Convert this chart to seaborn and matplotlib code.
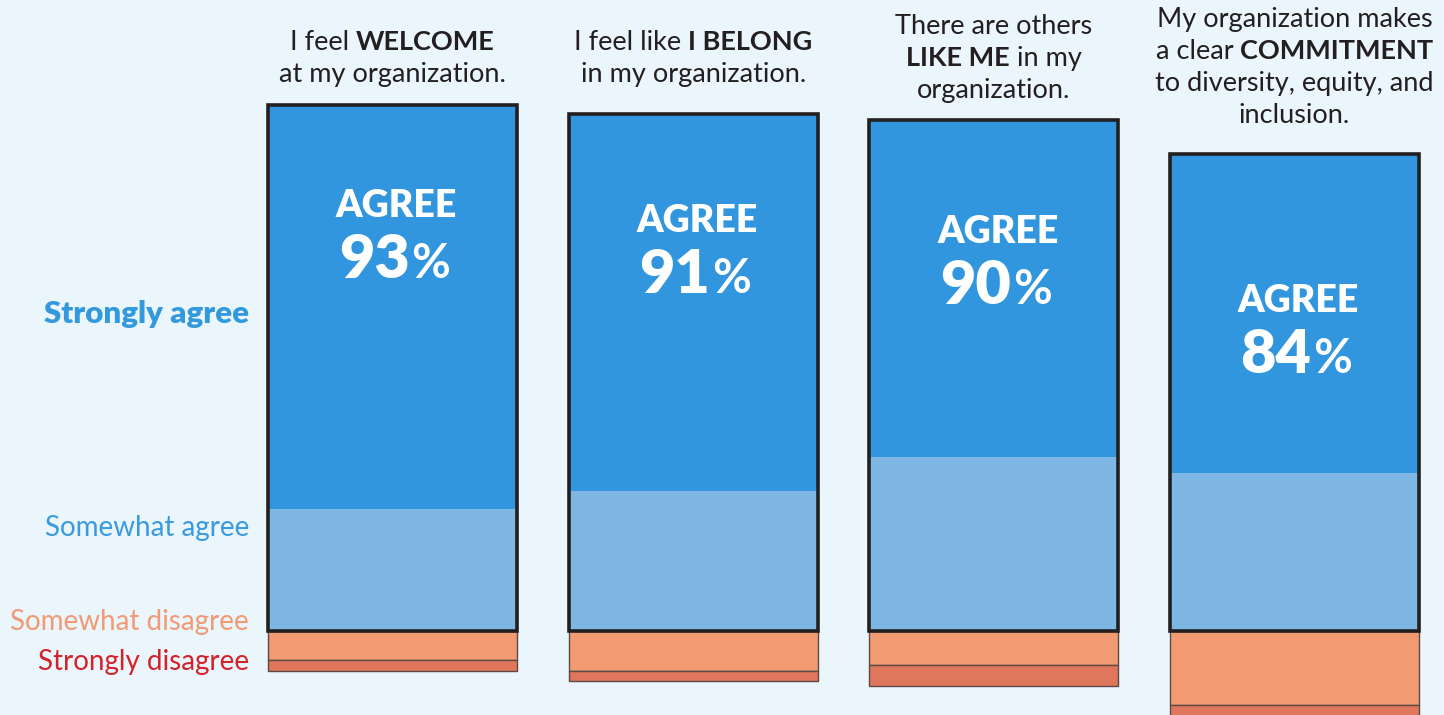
import numpy as np
import pandas as pd
import seaborn as sns
import matplotlib
matplotlib.use("Agg")
import matplotlib.pyplot as plt
import matplotlib.transforms as mtransforms

# ---------------- data ----------------
questions = ["WELCOME", "BELONG", "LIKE ME", "COMMITMENT"]
strongly_agree = [71.4, 66.7, 59.6, 56.5]
somewhat_agree = [21.6, 24.7, 30.8, 27.9]
somewhat_disagree = [5.2, 7.0, 6.0, 13.0]
strongly_disagree = [1.8, 1.9, 3.8, 3.0]
agree_totals = ["93", "91", "90", "84"]

title_lines = [
    [[("I feel ", False), ("WELCOME", True)], [("at my organization.", False)]],
    [[("I feel like ", False), ("I BELONG", True)], [("in my organization.", False)]],
    [[("There are others", False)], [("LIKE ME", True), (" in my", False)], [("organization.", False)]],
    [[("My organization makes", False)], [("a clear ", False), ("COMMITMENT", True)],
     [("to diversity, equity, and", False)], [("inclusion.", False)]],
]
legend_labels = ["Strongly agree", "Somewhat agree", "Somewhat disagree", "Strongly disagree"]

# ---------------- style ----------------
W, H, DPI = 1444, 715, 100
BG = "#eaf5fc"
C_SA = "#3196dd"
C_SWA = "#7eb7e3"
C_SWD = "#f29a72"
C_SD = "#e0765c"
FONT = ["Lato", "DejaVu Sans"]
TXT = "#231f20"

sns.set_theme(style="white")
plt.rcParams["font.family"] = FONT

fig = plt.figure(figsize=(W / DPI, H / DPI), dpi=DPI)
fig.patch.set_facecolor(BG)
ax = fig.add_axes([0, 0, 1, 1])
ax.set_facecolor(BG)

df = pd.DataFrame({
    "q": questions,
    "sa": strongly_agree,
    "swa": somewhat_agree,
    "swd": somewhat_disagree,
    "sd": strongly_disagree,
})
df["agree"] = df["sa"] + df["swa"]
df["neg_swd"] = -df["swd"]
df["neg_sd"] = -df["sd"]

BW = 0.828
common = dict(data=df, x="q", order=questions, width=BW, errorbar=None, ax=ax)
sns.barplot(y="swa", color=C_SWA, saturation=1, linewidth=0, **common)
sns.barplot(y="sa", bottom=list(df["swa"]), color=C_SA, saturation=1, linewidth=0, **common)
sns.barplot(y="neg_swd", color=C_SWD, saturation=1, edgecolor="#5b4a45", linewidth=1.0, **common)
sns.barplot(y="neg_sd", bottom=list(df["neg_swd"]), color=C_SD, saturation=1,
            edgecolor="#5b4a45", linewidth=1.0, **common)
sns.barplot(y="agree", color=TXT, fill=False, linewidth=2.6, saturation=1, **common)

# scale: baseline at 631 px from top, 5.656 px per percent
PX_PER = 5.656
BASE_PX = 631
ax.set_ylim(-(H - BASE_PX) / PX_PER, BASE_PX / PX_PER)
x0_px, step_px = 392.5, 300.67
ax.set_xlim(-x0_px / step_px, (W - x0_px) / step_px)
ax.set_axis_off()

ident = mtransforms.IdentityTransform()
renderer = fig.canvas.get_renderer()


def text_width(s, size, weight):
    t1 = fig.text(0, 0, "|" + s + "|", fontsize=size, fontweight=weight, transform=ident)
    t2 = fig.text(0, 0, "||", fontsize=size, fontweight=weight, transform=ident)
    w = t1.get_window_extent(renderer).width - t2.get_window_extent(renderer).width
    t1.remove()
    t2.remove()
    return w


def draw_line(xc, y_base, segs, ha="center", gap=0):
    # segs: (text, size, weight, color)
    widths = [text_width(s, sz, wt) for s, sz, wt, c in segs]
    total = sum(widths) + gap * (len(segs) - 1)
    if ha == "center":
        x = xc - total / 2
    elif ha == "right":
        x = xc - total
    else:
        x = xc
    for (s, sz, wt, c), w in zip(segs, widths):
        fig.text(x, H - y_base, s, fontsize=sz, fontweight=wt, color=c,
                 transform=ident, ha="left", va="baseline")
        x += w + gap


centers_px = [x0_px + step_px * i for i in range(len(questions))]

# titles
title_first_base = [50, 50, 34, 27]
LINE_SP = 32
for i, lines in enumerate(title_lines):
    for j, line in enumerate(lines):
        segs = [(s, 19.5, "bold" if b else "normal", TXT) for s, b in line]
        draw_line(centers_px[i], title_first_base[i] + j * LINE_SP, segs)

# AGREE labels in bars
agree_base = [217, 232, 243, 312]
for i, tot in enumerate(agree_totals):
    draw_line(centers_px[i] + 4, agree_base[i], [("AGREE", 27, "heavy", "white")])
    draw_line(centers_px[i] + 2, agree_base[i] + 61,
              [(tot, 44, "heavy", "white"), ("%", 34, "bold", "white")], gap=2)

# left labels
LX = 249
draw_line(LX, 323, [(legend_labels[0], 22.5, "heavy", "#3399dd")], ha="right")
draw_line(LX, 536, [(legend_labels[1], 20, "normal", "#3a9ae0")], ha="right")
draw_line(LX, 630, [(legend_labels[2], 20, "normal", "#f29a73")], ha="right")
draw_line(LX, 670, [(legend_labels[3], 20, "normal", "#d2232a")], ha="right")

fig.savefig("out.png", dpi=DPI, facecolor=BG)
